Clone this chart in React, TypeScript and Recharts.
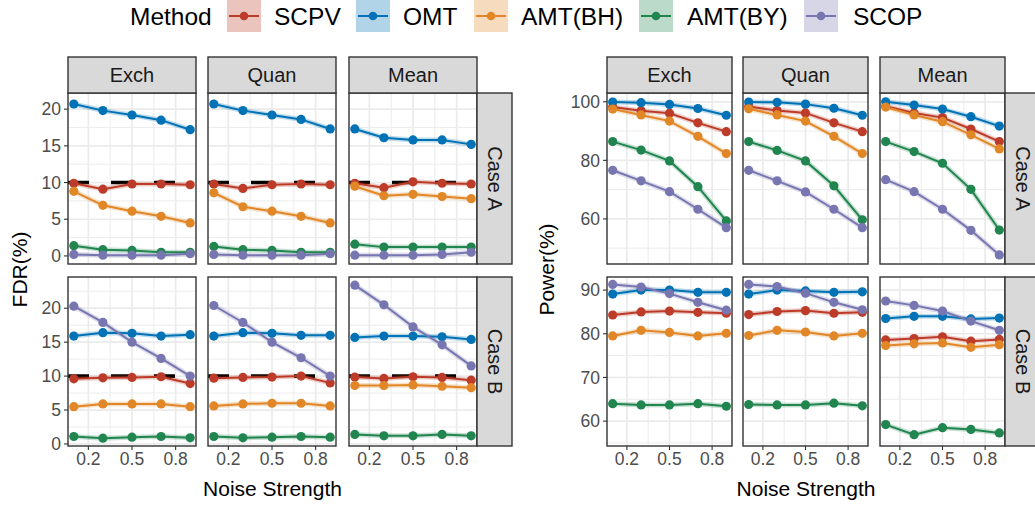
import React from 'react';
import { LineChart, Line, XAxis, YAxis, CartesianGrid, ReferenceLine } from 'recharts';

const NOISE = [0.1, 0.3, 0.5, 0.7, 0.9];
const METHODS = ['SCPV', 'OMT', 'AMT(BH)', 'AMT(BY)', 'SCOP'];
const COLORS = ['#BC3C29', '#0072B5', '#E18727', '#20854E', '#7876B1'];
const STRUCTURES = ['Exch', 'Quan', 'Mean'];
const CASES = ['Case A', 'Case B'];
const X_TICKS = [0.2, 0.5, 0.8];
const X_MINOR = [0.35, 0.65];

// FDR(%) — each array lists the methods in METHODS order
const fdrA_Exch = [
  [9.9, 9.1, 9.8, 9.8, 9.7],
  [20.7, 19.8, 19.2, 18.5, 17.2],
  [8.8, 6.9, 6.1, 5.4, 4.5],
  [1.4, 0.85, 0.75, 0.5, 0.5],
  [0.2, 0.1, 0.1, 0.1, 0.3],
];
const fdrA_Quan = [
  [9.8, 9.2, 9.7, 9.8, 9.7],
  [20.7, 19.8, 19.2, 18.6, 17.3],
  [8.6, 6.7, 6.1, 5.4, 4.5],
  [1.3, 0.85, 0.75, 0.5, 0.5],
  [0.2, 0.1, 0.1, 0.1, 0.3],
];
const fdrA_Mean = [
  [9.9, 9.3, 10.1, 9.9, 9.8],
  [17.3, 16.1, 15.8, 15.8, 15.2],
  [9.5, 8.2, 8.4, 8.1, 7.8],
  [1.6, 1.2, 1.2, 1.2, 1.2],
  [0.1, 0.1, 0.1, 0.2, 0.5],
];
const fdrB_Exch = [
  [9.6, 9.75, 9.8, 9.9, 8.9],
  [15.9, 16.4, 16.3, 15.9, 16.1],
  [5.5, 5.9, 5.9, 5.9, 5.5],
  [1.1, 0.85, 1.0, 1.1, 0.9],
  [20.3, 17.9, 15.0, 12.6, 10.0],
];
const fdrB_Quan = [
  [9.7, 9.8, 9.85, 10.0, 9.0],
  [15.9, 16.4, 16.3, 16.0, 16.0],
  [5.6, 5.9, 6.0, 6.0, 5.6],
  [1.1, 0.9, 1.0, 1.1, 1.0],
  [20.4, 17.9, 15.0, 12.7, 10.0],
];
const fdrB_Mean = [
  [9.85, 9.65, 9.9, 9.8, 9.4],
  [15.7, 15.9, 15.9, 15.8, 15.4],
  [8.6, 8.6, 8.7, 8.5, 8.3],
  [1.4, 1.2, 1.2, 1.4, 1.2],
  [23.4, 20.5, 17.25, 14.6, 11.5],
];

// Power(%)
const powA_Exch = [
  [98.2, 96.9, 96.1, 92.8, 89.8],
  [99.9, 99.7, 99.1, 97.7, 95.4],
  [97.5, 95.5, 93.4, 88.2, 82.3],
  [86.4, 83.5, 79.8, 71.0, 59.3],
  [76.6, 73.0, 69.3, 63.3, 57.0],
];
const powA_Quan = [
  [98.4, 97.0, 96.2, 92.8, 89.8],
  [99.9, 99.8, 99.2, 97.8, 95.4],
  [97.6, 95.5, 93.4, 88.2, 82.3],
  [86.4, 83.4, 79.8, 71.3, 59.7],
  [76.6, 73.0, 69.2, 63.3, 57.0],
];
const powA_Mean = [
  [98.5, 96.2, 94.6, 90.7, 86.4],
  [100.0, 98.9, 97.5, 94.9, 91.7],
  [98.2, 95.5, 93.2, 88.7, 83.9],
  [86.4, 83.0, 79.0, 70.1, 56.2],
  [73.4, 69.3, 63.3, 56.1, 47.7],
];
const powB_Exch = [
  [84.3, 85.0, 85.2, 84.9, 84.7],
  [89.1, 90.0, 90.0, 89.5, 89.5],
  [79.5, 80.8, 80.3, 79.5, 80.1],
  [64.0, 63.7, 63.7, 64.0, 63.4],
  [91.3, 90.7, 89.2, 87.2, 85.4],
];
const powB_Quan = [
  [84.4, 85.1, 85.3, 84.7, 84.9],
  [89.1, 90.0, 89.8, 89.5, 89.6],
  [79.6, 80.8, 80.4, 79.5, 80.1],
  [63.8, 63.7, 63.7, 64.1, 63.5],
  [91.3, 90.8, 89.3, 87.2, 85.5],
];
const powB_Mean = [
  [78.6, 78.9, 79.3, 78.3, 78.7],
  [83.5, 84.0, 84.0, 83.4, 83.6],
  [77.3, 77.7, 77.9, 76.9, 77.5],
  [59.2, 56.9, 58.5, 58.1, 57.3],
  [87.5, 86.5, 85.2, 82.9, 80.8],
];

const FDR_TICKS = [0, 5, 10, 15, 20];
const FDR_MINOR_A = [2.5, 7.5, 12.5, 17.5];
const FDR_MINOR_B = [2.5, 7.5, 12.5, 17.5, 22.5];
const POW_TICKS_A = [60, 80, 100];
const POW_MINOR_A = [50, 70, 90];
const POW_TICKS_B = [60, 70, 80, 90];
const POW_MINOR_B = [55, 65, 75, 85];
const FDR_TARGET = 10;

const FONT = '"Liberation Sans", Arial, Helvetica, sans-serif';
const TICK_FONT = 17.5;

const toRows = (series: number[][]) =>
  NOISE.map((x, i) => {
    const row: Record<string, number> = { x };
    METHODS.forEach((m, k) => {
      row[m] = series[k][i];
    });
    return row;
  });

// layout
const ROW_TOP = [93, 277];
const ROW_H = [171, 169];
const STRIP_TOP = 57;
const STRIP_H = 36;
const STRIP_W = 35;
const YW = 60;
const XH = 32;
const PAD = 10;

type PanelSpec = {
  lefts: number[];
  width: number;
  data: number[][][][]; // [row][col]
  yDomains: [number, number][];
  yTicks: number[][];
  yMinor: number[][];
  refLine: boolean;
  yTitle: string;
  yTitleX: number;
};

const PLOTS: PanelSpec[] = [
  {
    lefts: [68, 208, 349],
    width: 128,
    data: [
      [fdrA_Exch, fdrA_Quan, fdrA_Mean],
      [fdrB_Exch, fdrB_Quan, fdrB_Mean],
    ],
    yDomains: [
      [-1.1, 22.2],
      [-0.3, 24.6],
    ],
    yTicks: [FDR_TICKS, FDR_TICKS],
    yMinor: [FDR_MINOR_A, FDR_MINOR_B],
    refLine: true,
    yTitle: 'FDR(%)',
    yTitleX: 26.5,
  },
  {
    lefts: [607, 743, 880],
    width: 125,
    data: [
      [powA_Exch, powA_Quan, powA_Mean],
      [powB_Exch, powB_Quan, powB_Mean],
    ],
    yDomains: [
      [44.6, 103],
      [54.3, 93],
    ],
    yTicks: [POW_TICKS_A, POW_TICKS_B],
    yMinor: [POW_MINOR_A, POW_MINOR_B],
    refLine: false,
    yTitle: 'Power(%)',
    yTitleX: 553.5,
  },
];

function Facet(props: {
  series: number[][];
  left: number;
  top: number;
  width: number;
  height: number;
  showY: boolean;
  showX: boolean;
  yDomain: [number, number];
  yTicks: number[];
  yMinor: number[];
  refLine: boolean;
}) {
  const { series, left, top, width, height, showY, showX, yDomain, yTicks, yMinor, refLine } = props;
  const rows = toRows(series);
  const yw = showY ? YW : 0;
  const xh = showX ? XH : 0;
  const w = width + yw;
  const h = height + xh + 2 * PAD;
  return (
    <div style={{ position: 'absolute', left: left - yw, top: top - PAD, width: w, height: h }}>
      <LineChart
        width={w}
        height={h}
        data={rows}
        margin={{ top: PAD, right: 0, bottom: PAD, left: 0 }}
        style={{ background: 'transparent' }}
      >
        <CartesianGrid
          stroke="#EBEBEB"
          strokeWidth={0.9}
          horizontalValues={yMinor}
          verticalValues={X_MINOR}
        />
        <CartesianGrid
          stroke="#EBEBEB"
          strokeWidth={1.7}
          horizontalValues={yTicks}
          verticalValues={X_TICKS}
        />
        <XAxis
          dataKey="x"
          type="number"
          domain={[0.06, 0.94]}
          ticks={X_TICKS}
          allowDataOverflow
          hide={!showX}
          height={XH}
          tickFormatter={(v: number) => v.toFixed(1)}
          tick={{ fill: '#4D4D4D', fontSize: TICK_FONT, fontFamily: FONT }}
          tickLine={{ stroke: '#333333', strokeWidth: 1.1 }}
          axisLine={false}
          tickSize={4}
          tickMargin={3}
          interval={0}
        />
        <YAxis
          type="number"
          domain={yDomain}
          ticks={yTicks}
          allowDataOverflow
          hide={!showY}
          width={YW}
          tick={{ fill: '#4D4D4D', fontSize: TICK_FONT, fontFamily: FONT }}
          tickLine={{ stroke: '#333333', strokeWidth: 1.1 }}
          axisLine={false}
          tickSize={4}
          tickMargin={3}
          interval={0}
        />
        {refLine && (
          <ReferenceLine
            y={FDR_TARGET}
            stroke="#000000"
            strokeWidth={3.6}
            strokeDasharray="21 22"
          />
        )}
        {METHODS.map((m, k) => (
          <Line
            key={'rib-' + m}
            type="linear"
            dataKey={m}
            stroke={COLORS[k]}
            strokeOpacity={0.25}
            strokeWidth={5}
            dot={false}
            activeDot={false}
            isAnimationActive={false}
            legendType="none"
          />
        ))}
        {METHODS.map((m, k) => (
          <Line
            key={m}
            type="linear"
            dataKey={m}
            stroke={COLORS[k]}
            strokeWidth={2}
            dot={{ r: 4.6, fill: COLORS[k], stroke: COLORS[k], strokeWidth: 0 }}
            activeDot={false}
            isAnimationActive={false}
          />
        ))}
      </LineChart>
    </div>
  );
}

const LEGEND_KEYS_X = [227, 356, 474, 639, 804];
const LEGEND_TEXT_X = [274, 403, 521, 687, 853];

export default function App() {
  const facets: React.ReactNode[] = [];
  const overlay: React.ReactNode[] = [];

  PLOTS.forEach((p, pi) => {
    for (let r = 0; r < 2; r++) {
      for (let c = 0; c < 3; c++) {
        facets.push(
          <Facet
            key={`f-${pi}-${r}-${c}`}
            series={p.data[r][c]}
            left={p.lefts[c]}
            top={ROW_TOP[r]}
            width={p.width}
            height={ROW_H[r]}
            showY={c === 0}
            showX={r === 1}
            yDomain={p.yDomains[r]}
            yTicks={p.yTicks[r]}
            yMinor={p.yMinor[r]}
            refLine={p.refLine}
          />
        );
        // panel border
        overlay.push(
          <rect
            key={`b-${pi}-${r}-${c}`}
            x={p.lefts[c]}
            y={ROW_TOP[r]}
            width={p.width}
            height={ROW_H[r]}
            fill="none"
            stroke="#333333"
            strokeWidth={1.4}
          />
        );
      }
      // right strip
      const sx = p.lefts[2] + p.width;
      overlay.push(
        <g key={`rs-${pi}-${r}`}>
          <rect x={sx} y={ROW_TOP[r]} width={STRIP_W} height={ROW_H[r]} fill="#D9D9D9" stroke="#333333" strokeWidth={1.4} />
          <text
            transform={`translate(${sx + STRIP_W / 2 - 7}, ${ROW_TOP[r] + ROW_H[r] / 2}) rotate(90)`}
            textAnchor="middle"
            fontSize={20}
            fill="#1A1A1A"
            fontFamily={FONT}
          >
            {CASES[r]}
          </text>
        </g>
      );
    }
    // top strips
    for (let c = 0; c < 3; c++) {
      overlay.push(
        <g key={`ts-${pi}-${c}`}>
          <rect x={p.lefts[c]} y={STRIP_TOP} width={p.width} height={STRIP_H} fill="#D9D9D9" stroke="#333333" strokeWidth={1.4} />
          <text
            x={p.lefts[c] + p.width / 2}
            y={STRIP_TOP + STRIP_H / 2 + 7}
            textAnchor="middle"
            fontSize={20}
            fill="#1A1A1A"
            fontFamily={FONT}
          >
            {STRUCTURES[c]}
          </text>
        </g>
      );
    }
    // axis titles
    const cx = (p.lefts[0] + p.lefts[2] + p.width) / 2;
    overlay.push(
      <text key={`xt-${pi}`} x={cx} y={496} textAnchor="middle" fontSize={21} fill="#000" fontFamily={FONT}>
        Noise Strength
      </text>
    );
    overlay.push(
      <text
        key={`yt-${pi}`}
        transform={`translate(${p.yTitleX}, ${(ROW_TOP[0] + ROW_TOP[1] + ROW_H[1]) / 2}) rotate(-90)`}
        textAnchor="middle"
        fontSize={21}
        fill="#000"
        fontFamily={FONT}
      >
        {p.yTitle}
      </text>
    );
  });

  // legend
  overlay.push(
    <text key="lg-title" x={130} y={25} fontSize={24.5} fill="#000" fontFamily={FONT}>
      Method
    </text>
  );
  METHODS.forEach((m, k) => {
    const kx = LEGEND_KEYS_X[k];
    overlay.push(
      <g key={`lg-${m}`}>
        <rect x={kx} y={0} width={34} height={32} fill={COLORS[k]} fillOpacity={0.3} />
        <line x1={kx + 2} x2={kx + 32} y1={16} y2={16} stroke={COLORS[k]} strokeWidth={2} />
        <circle cx={kx + 17} cy={16} r={4.3} fill={COLORS[k]} />
        <text x={LEGEND_TEXT_X[k]} y={25} fontSize={24.5} fill="#000" fontFamily={FONT}>
          {m}
        </text>
      </g>
    );
  });

  return (
    <div
      style={{
        position: 'absolute',
        left: 0,
        top: 0,
        width: 1035,
        height: 506,
        overflow: 'hidden',
        background: '#FFFFFF',
        fontFamily: FONT,
      }}
    >
      {facets}
      <svg
        width={1035}
        height={506}
        style={{ position: 'absolute', left: 0, top: 0, pointerEvents: 'none' }}
      >
        {overlay}
      </svg>
    </div>
  );
}
